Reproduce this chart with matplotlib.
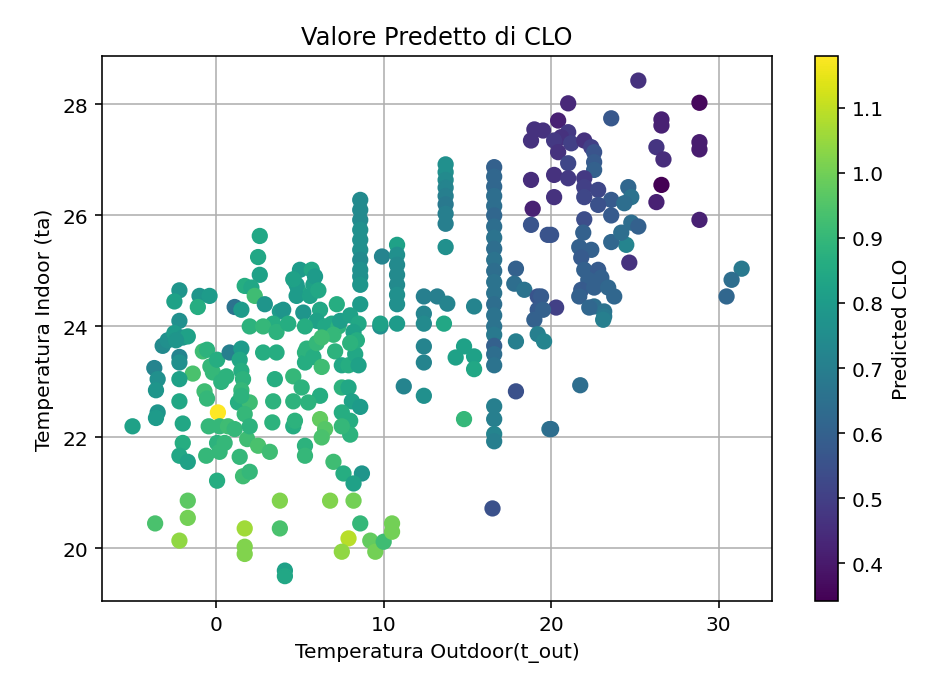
import numpy as np
import matplotlib
matplotlib.use('Agg')
import matplotlib.pyplot as plt
from matplotlib.ticker import MultipleLocator

# outdoor temp, indoor temp, predicted clo
t_out = [
 -5.0,-3.7,-3.5,-3.6,-3.5,-3.6,-3.2,-2.9,-3.65,
 -2.2,-2.5,-1.0,-0.4,-1.1,-2.2,-2.5,-2.0,-1.7,-2.4,
 -2.2,-2.2,-1.4,-2.2,-2.2,-2.0,-2.0,-2.2,-1.7,-1.7,-1.7,-2.2,
 -0.8,-0.55,-0.35,-0.2,-0.7,-0.55,-0.45,-0.6,
 0.05,0.3,0.6,0.1,0.2,0.7,1.1,0.05,0.5,0.2,0.05,
 0.8,1.5,1.4,1.5,1.6,1.5,1.3,2.0,1.7,1.5,
 1.4,1.6,2.0,1.85,2.0,1.7,1.7,1.7,
 2.6,2.5,2.6,1.7,2.1,2.3,1.1,1.5,2.9,3.8,3.4,4.0,2.0,2.8,3.6,4.3,
 4.9,5.0,5.7,4.8,5.8,4.8,5.6,5.2,6.2,6.0,5.3,6.5,6.9,7.3,4.6,5.9,6.1,7.4,7.0,
 2.8,3.6,3.5,3.4,3.35,2.5,3.2,4.6,4.6,4.6,4.7,5.1,5.3,5.3,5.4,5.8,
 3.8,3.8,4.1,4.1,5.3,5.3,
 6.0,6.3,6.3,6.2,5.5,6.2,6.5,6.3,7.0,7.1,7.5,7.9,8.3,8.5,
 7.5,7.9,8.1,8.6,8.0,8.0,7.5,7.5,7.6,8.7,8.2,
 6.8,8.2,8.6,7.9,7.5,9.2,9.5,10.0,10.5,10.5,
 8.6,8.6,8.6,8.6,8.6,8.6,8.6,8.6,8.6,8.6,
 8.6,8.0,8.5,8.2,8.4,8.0,7.2,9.9,9.8,
 10.8,10.8,10.8,10.8,10.8,10.8,10.8,9.8,10.8,
 11.2,12.4,12.4,13.2,13.8,12.4,12.4,13.6,12.4,12.4,
 14.8,14.3,15.4,15.4,14.8,
 13.7,13.7,13.7,13.7,13.7,13.7,13.7,13.7,13.7,15.4,
 16.6,16.6,16.6,16.6,16.6,16.6,16.6,16.6,16.6,16.6,
 16.6,16.6,16.6,16.6,16.6,16.6,16.6,16.6,16.6,16.6,
 16.6,16.6,16.6,16.6,16.5,
 17.9,17.8,18.4,17.9,17.9,19.2,19.2,19.0,19.2,19.9,
 19.0,18.8,18.8,18.9,18.8,19.8,
 21.02,20.42,23.59,19.52,21.02,20.6,20.18,21.2,21.98,22.4,22.57,20.42,
 21.02,22.57,22.57,20.18,21.02,21.98,21.98,22.81,24.61,24.79,20.18,21.98,
 23.59,24.37,21.98,22.81,23.59,20.0,21.92,21.68,22.4,21.8,21.98,22.81,
 23.0,22.22,21.8,22.57,23.41,23.77,21.68,22.57,23.17,22.28,23.17,
 24.67,24.49,23.59,24.19,24.79,25.21,20.3,19.4,19.52,
 25.21,28.86,26.59,26.59,28.86,28.86,26.29,26.71,26.59,26.29,28.86,
 31.38,30.78,30.48,23.11,19.58,21.74,20.0,
]
t_in = [
 22.2,23.25,23.05,22.85,22.45,22.35,23.65,23.75,20.45,
 24.65,24.45,24.55,24.55,24.35,24.1,23.88,23.8,23.82,23.75,
 23.45,23.35,23.15,23.05,22.65,22.25,21.9,21.67,21.56,20.86,20.55,20.14,
 23.55,23.58,23.28,23.17,22.83,22.7,22.2,21.67,
 23.4,23.0,23.1,22.45,22.2,22.2,22.15,21.9,21.9,21.74,21.22,
 23.53,23.6,23.4,23.2,23.05,22.85,22.63,22.63,22.42,22.75,
 21.65,21.3,21.38,21.97,22.2,20.36,20.03,19.9,
 25.63,25.25,24.93,24.73,24.7,24.55,24.35,24.3,24.4,24.27,24.05,24.3,24.0,24.0,23.9,24.05,
 24.65,25.02,25.02,24.75,24.75,24.55,24.55,24.25,24.3,24.1,24.0,24.0,24.05,24.0,24.85,24.9,24.65,24.1,23.85,
 23.53,23.53,23.05,22.65,22.27,21.85,21.74,23.1,22.65,22.2,22.3,22.9,23.53,23.35,23.6,23.45,
 20.86,20.36,19.6,19.5,21.85,21.67,
 23.7,23.8,23.27,22.75,22.63,22.33,22.15,22.0,21.56,23.55,23.3,23.3,23.5,23.3,
 22.9,22.9,22.65,22.55,22.3,22.05,22.45,22.2,21.35,21.35,21.17,
 20.86,20.86,20.45,20.18,19.94,20.14,19.94,20.12,20.45,20.3,
 26.28,26.1,25.92,25.74,25.56,25.38,25.2,25.02,24.9,24.75,
 24.4,24.2,24.05,23.9,23.75,23.7,24.4,25.26,24.0,
 25.47,25.29,25.11,24.93,24.75,24.57,24.4,24.05,24.05,
 22.92,22.75,24.54,24.54,24.41,24.23,24.05,24.05,23.64,23.35,
 23.64,23.44,23.46,23.23,22.33,
 26.92,26.78,26.64,26.5,26.35,26.2,26.03,25.85,25.43,24.36,
 26.87,26.7,26.52,26.35,26.17,26.0,25.8,25.6,25.4,25.2,
 25.0,24.8,24.6,24.4,24.2,24.0,23.85,23.65,23.5,23.3,
 22.56,22.33,22.06,21.93,20.72,
 25.04,24.77,24.66,23.73,22.83,24.54,24.3,24.12,23.86,22.15,
 27.55,27.35,26.64,26.12,25.83,25.65,
 28.02,27.71,27.75,27.53,27.5,27.41,27.35,27.3,27.35,27.23,27.14,27.14,
 26.94,26.96,26.82,26.73,26.67,26.67,26.51,26.46,26.51,26.33,26.33,26.33,
 26.28,26.22,25.93,26.19,26.0,25.65,25.69,25.43,25.38,25.24,25.02,25.02,
 24.88,24.84,24.66,24.7,24.7,24.54,24.54,24.36,24.27,24.34,24.18,
 25.15,25.47,25.52,25.69,25.87,25.8,24.34,24.54,24.3,
 28.43,28.03,27.73,27.62,27.32,27.19,27.23,27.01,26.55,26.24,25.92,
 25.04,24.84,24.54,24.12,23.73,22.94,22.15,
]
clo = [
 0.82,0.72,0.76,0.78,0.78,0.80,0.74,0.76,0.94,
 0.78,0.82,0.78,0.80,0.86,0.76,0.80,0.78,0.82,0.78,
 0.72,0.76,0.94,0.82,0.84,0.84,0.86,0.84,0.82,0.97,1.00,1.04,
 0.92,0.88,0.90,0.90,0.92,0.90,0.90,0.90,
 0.86,0.88,0.88,1.18,0.90,0.92,0.90,0.88,0.90,0.90,0.86,
 0.70,0.80,0.84,0.86,0.88,0.90,0.86,0.92,0.90,0.88,
 0.90,0.92,0.90,0.92,0.88,1.06,1.02,1.02,
 0.84,0.84,0.82,0.86,0.84,0.92,0.66,0.80,0.78,0.80,0.86,0.78,0.88,0.90,0.88,0.86,
 0.84,0.80,0.84,0.80,0.82,0.80,0.82,0.78,0.84,0.82,0.86,0.84,0.84,0.88,0.82,0.80,0.84,0.81,0.90,
 0.86,0.86,0.86,0.88,0.88,0.94,0.92,0.90,0.88,0.86,0.88,0.88,0.88,0.86,0.88,0.86,
 1.02,0.94,0.82,0.84,0.88,0.90,
 0.90,0.92,0.92,0.86,0.88,0.98,0.96,0.94,0.92,0.88,0.84,0.86,0.84,0.82,
 0.88,0.84,0.82,0.80,0.86,0.88,0.86,0.90,0.86,0.78,0.82,
 1.02,1.00,0.90,1.09,1.04,0.98,1.00,0.92,1.00,1.00,
 0.74,0.74,0.74,0.76,0.76,0.76,0.74,0.76,0.76,0.78,
 0.80,0.82,0.84,0.82,0.86,0.88,0.86,0.72,0.76,
 0.82,0.76,0.74,0.74,0.74,0.76,0.76,0.82,0.80,
 0.72,0.76,0.70,0.70,0.72,0.72,0.74,0.84,0.72,0.72,
 0.82,0.82,0.82,0.84,0.90,
 0.76,0.76,0.74,0.72,0.70,0.68,0.70,0.70,0.76,0.72,
 0.60,0.62,0.62,0.64,0.64,0.62,0.64,0.66,0.64,0.66,
 0.64,0.66,0.66,0.64,0.66,0.66,0.68,0.60,0.64,0.66,
 0.70,0.70,0.72,0.70,0.55,
 0.60,0.64,0.66,0.70,0.55,0.56,0.58,0.60,0.70,0.66,
 0.46,0.46,0.45,0.42,0.56,0.56,
 0.44,0.42,0.57,0.46,0.48,0.46,0.48,0.50,0.46,0.50,0.56,0.46,
 0.52,0.58,0.60,0.46,0.48,0.48,0.50,0.52,0.62,0.66,0.46,0.52,
 0.58,0.64,0.54,0.55,0.58,0.56,0.60,0.60,0.60,0.58,0.60,0.58,
 0.60,0.60,0.58,0.60,0.62,0.62,0.60,0.64,0.66,0.62,0.68,
 0.46,0.72,0.62,0.64,0.64,0.60,0.50,0.58,0.60,
 0.46,0.36,0.42,0.42,0.41,0.41,0.47,0.45,0.342,0.42,0.42,
 0.68,0.64,0.62,0.70,0.72,0.64,0.64,
]

fig = plt.figure(figsize=(6.4, 4.717), dpi=145)
ax = fig.add_axes([0.11, 0.12, 0.722, 0.797])
cax = fig.add_axes([0.878, 0.12, 0.025, 0.797])

sc = ax.scatter(t_out, t_in, c=clo, cmap='viridis', s=50)
ax.set_title('Valore Predetto di CLO')
ax.set_xlabel('Temperatura Outdoor(t_out)')
ax.set_ylabel('Temperatura Indoor (ta)')
ax.xaxis.set_major_locator(MultipleLocator(10))
ax.grid(True)
ax.set_axisbelow(True)
cb = fig.colorbar(sc, cax=cax)
cb.set_label('Predicted CLO')

fig.savefig('out.png')
